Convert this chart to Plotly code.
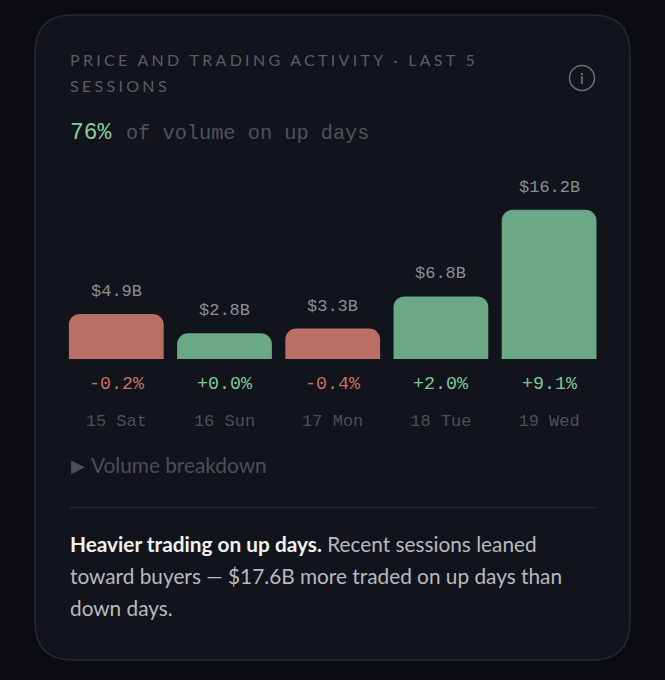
import plotly.graph_objects as go

sessions = ["15 Sat", "16 Sun", "17 Mon", "18 Tue", "19 Wed"]
volumes = [4.9, 2.8, 3.3, 6.8, 16.2]
changes = [-0.2, 0.0, -0.4, 2.0, 9.1]
direction = ["down", "up", "down", "up", "up"]

title_lines = ["PRICE AND TRADING ACTIVITY · LAST 5", "SESSIONS"]
headline_value = "76%"
headline_text = "of volume on up days"
toggle_text = "Volume breakdown"
note_lines = [
    "<b>Heavier trading on up days.</b> <span style='color:#b9babd'>Recent sessions leaned</span>",
    "toward buyers — $17.6B more traded on up days than",
    "down days.",
]

W, H = 665, 680
MONO = "Liberation Mono"
SANS = "Lato"
PAGE = "#0a0c10"
CARD = "#11141a"
BORDER = "#272a30"
BAR = {"up": "#6aa886", "down": "#b96f64"}
PCT = {"up": "#7fc79b", "down": "#c9705f"}


def px(x):
    return x / W


def py(y):
    return 1 - y / H


def label(x, y, text, size, color, font=SANS, anchor="left"):
    return dict(xref="paper", yref="paper", x=px(x), y=py(y), text=text, showarrow=False,
                xanchor=anchor, yanchor="middle", align="left",
                font=dict(family=font, size=size, color=color))


fig = go.Figure(go.Bar(
    x=sessions, y=volumes,
    marker=dict(color=[BAR[d] for d in direction], line_width=0),
    hoverinfo="skip",
))

annotations = [
    label(67.7, 59.5, title_lines[0], 16, "#5b5e65"),
    label(67.7, 85.5, title_lines[1], 16, "#5b5e65"),
    label(67.5, 133, headline_value, 23, "#86c9a2", MONO),
    label(124, 134, headline_text, 20.3, "#50535a", MONO),
    label(582, 78, "i", 15, "#7b7e84", SANS, "center"),
    label(69, 465, "▶", 18, "#4c4f57", SANS),
    label(89, 464.5, toggle_text, 20.8, "#4c4f57"),
    label(67.7, 543.5, note_lines[0], 20.8, "#f0f0f0"),
    label(67.7, 575.5, note_lines[1], 20.8, "#b9babd"),
    label(67.7, 607.5, note_lines[2], 20.8, "#b9babd"),
]
for s, v in zip(sessions, volumes):
    annotations.append(dict(
        xref="x", yref="y", x=s, y=v, yshift=11, text=f"${v:.1f}B", showarrow=False,
        yanchor="bottom", font=dict(family=MONO, size=17, color="#8b8e94")))
for s, c, d in zip(sessions, changes, direction):
    annotations.append(dict(
        xref="x", yref="paper", x=s, y=py(384), text=f"{c:+.1f}%", showarrow=False,
        yanchor="middle", font=dict(family=MONO, size=18.3, color=PCT[d])))

r = 38
l, t, ri, b = 35, 15, 630, 660
path = (f"M {px(l + r)} {py(t)} L {px(ri - r)} {py(t)} Q {px(ri)} {py(t)} {px(ri)} {py(t + r)} "
        f"L {px(ri)} {py(b - r)} Q {px(ri)} {py(b)} {px(ri - r)} {py(b)} "
        f"L {px(l + r)} {py(b)} Q {px(l)} {py(b)} {px(l)} {py(b - r)} "
        f"L {px(l)} {py(t + r)} Q {px(l)} {py(t)} {px(l + r)} {py(t)} Z")
shapes = [
    dict(type="path", xref="paper", yref="paper", path=path, fillcolor=CARD,
         line=dict(color=BORDER, width=1.5), layer="below"),
    dict(type="circle", xref="paper", yref="paper", x0=px(569.5), x1=px(594.5), y0=py(65.5), y1=py(90.5),
         line=dict(color="#6d7076", width=1.5), fillcolor="rgba(0,0,0,0)"),
    dict(type="line", xref="paper", yref="paper", x0=px(70), x1=px(596), y0=py(507.5), y1=py(507.5),
         line=dict(color="#24272d", width=1.5)),
]

fig.update_layout(
    width=W, height=H, autosize=False, margin=dict(l=0, r=0, t=0, b=0),
    paper_bgcolor=PAGE, plot_bgcolor="rgba(0,0,0,0)", showlegend=False,
    bargap=0.124, barcornerradius=11,
    annotations=annotations, shapes=shapes,
    xaxis=dict(domain=[px(62.2), px(603.2)], type="category", showgrid=False, zeroline=False,
               showline=False, ticks="outside", ticklen=46, tickcolor="rgba(0,0,0,0)",
               tickfont=dict(family=MONO, size=17, color="#4d5057"), fixedrange=True),
    yaxis=dict(domain=[py(359), py(150)], range=[0, 22.7], visible=False, fixedrange=True),
)

post = """
document.documentElement.style.background='#0a0c10';
document.body.style.margin='0';
document.body.style.overflow='hidden';
document.body.style.background='#0a0c10';
document.querySelectorAll('.annotation-text').forEach(function(t){
  if (/PRICE AND|^SESSIONS/.test(t.textContent)) { t.style.letterSpacing='3.3px'; }
});
"""
fig.write_html("out.html", post_script=post, config={"displayModeBar": False})
